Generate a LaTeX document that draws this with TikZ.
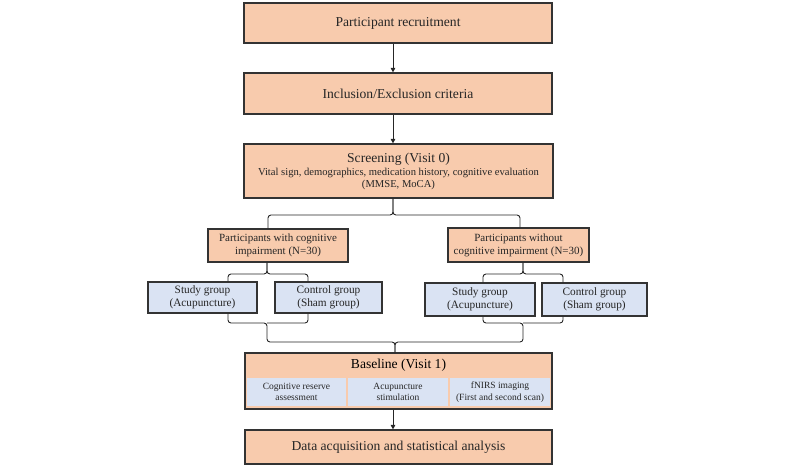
\documentclass[tikz,border=0pt]{standalone}
\usepackage{fontspec}
\setmainfont{Liberation Serif}
\usetikzlibrary{arrows.meta}
\definecolor{peach}{HTML}{F8CBAD}
\definecolor{lblue}{HTML}{DAE3F3}
\definecolor{edgec}{HTML}{333333}
\begin{document}
\begin{tikzpicture}[x=1pt,y=-1pt,
  obox/.style={draw=edgec,line width=1.2pt,fill=peach,inner sep=0pt,align=center,text=black!85},
  bbox/.style={draw=edgec,line width=1.2pt,fill=lblue,inner sep=0pt,align=center,text=black!85},
  cell/.style={fill=lblue,inner sep=0pt,align=center,text=black!85,minimum height=28pt},
  conn/.style={draw=black!85,line width=0.9pt,rounded corners=3pt},
  arr/.style={draw=black!85,line width=0.9pt,-{Triangle[length=4.5pt,width=4.5pt]}},
  big/.style={font=\fontsize{13.6}{15}\selectfont},
  mid/.style={font=\fontsize{11.3}{13}\selectfont},
  sml/.style={font=\fontsize{11}{12.8}\selectfont},
  tiny/.style={font=\fontsize{9.5}{11.5}\selectfont}]
\useasboundingbox (0,0) rectangle (800,467);

\node[obox,big,minimum width=308pt,minimum height=40pt] (rec) at (398,23) {Participant recruitment};
\node[obox,big,minimum width=308pt,minimum height=41pt] (inc) at (398,93.5) {Inclusion/Exclusion criteria};
\node[obox,minimum width=309pt,minimum height=54pt] (scr) at (398.5,171)
  {{\fontsize{13.6}{14}\selectfont Screening (Visit 0)}\\[1pt]
   {\fontsize{10.6}{14}\selectfont Vital sign, demographics, medication history, cognitive evaluation}\\
   {\fontsize{10.6}{14}\selectfont (MMSE, MoCA)}};

\node[obox,sml,minimum width=140pt,minimum height=33pt] (pw) at (278,245.5) {Participants with cognitive\\impairment (N=30)};
\node[obox,sml,minimum width=141pt,minimum height=34pt] (po) at (518.5,245) {Participants without\\cognitive impairment (N=30)};

\node[bbox,mid,minimum width=109pt,minimum height=31pt] (s1) at (202.5,297.5) {Study group\\(Acupuncture)};
\node[bbox,mid,minimum width=107pt,minimum height=31pt] (c1) at (328.5,297.5) {Control group\\(Sham group)};
\node[bbox,mid,minimum width=110pt,minimum height=33pt] (s2) at (480,299.5) {Study group\\(Acupuncture)};
\node[bbox,mid,minimum width=105pt,minimum height=33pt] (c2) at (594.5,299.5) {Control group\\(Sham group)};

\node[obox,minimum width=307pt,minimum height=56pt] (bas) at (398.5,381) {};
\node[big] (bt) at (398.5,365) {Baseline (Visit 1)};
\node[cell,tiny,minimum width=99pt] (k1) at (296.5,392) {Cognitive reserve\\assessment};
\node[cell,tiny,minimum width=100pt] (k2) at (398,392) {Acupuncture\\stimulation};
\node[cell,tiny,minimum width=100pt] (k3) at (500,392) {fNIRS imaging\\(First and second scan)};

\node[obox,big,minimum width=307pt,minimum height=34pt] (dat) at (398.5,447) {Data acquisition and statistical analysis};

% coordinates
\coordinate (ax) at (393,0);
\coordinate (h1) at (0,215);
\coordinate (bl) at (268,0);
\coordinate (br) at (520,0);
\coordinate (h2) at (0,274);
\coordinate (l1) at (267,0);
\coordinate (la) at (228,0);
\coordinate (lb) at (308,0);
\coordinate (r1) at (523,0);
\coordinate (ra) at (483,0);
\coordinate (rb) at (563,0);
\coordinate (h3) at (0,323);
\coordinate (h4) at (0,342);
\coordinate (bx) at (395,0);

\draw[arr] (rec.south -| ax) -- (inc.north -| ax);
\draw[arr] (inc.south -| ax) -- (scr.north -| ax);
\draw[arr] (bas.south -| ax) -- (dat.north -| ax);

% screening split
\draw[conn] (scr.south -| ax) -- (ax |- h1) -- (bl |- h1) -- (pw.north -| bl);
\draw[conn] (scr.south -| ax) -- (ax |- h1) -- (br |- h1) -- (po.north -| br);
% participant splits
\draw[conn] (pw.south -| l1) -- (l1 |- h2) -- (la |- h2) -- (s1.north -| la);
\draw[conn] (pw.south -| l1) -- (l1 |- h2) -- (lb |- h2) -- (c1.north -| lb);
\draw[conn] (po.south -| r1) -- (r1 |- h2) -- (ra |- h2) -- (s2.north -| ra);
\draw[conn] (po.south -| r1) -- (r1 |- h2) -- (rb |- h2) -- (c2.north -| rb);
% merges
\draw[conn] (s1.south -| la) -- (la |- h3) -- (l1 |- h3) -- (l1 |- h4) -- (bx |- h4) -- (bas.north -| bx);
\draw[conn] (c1.south -| lb) -- (lb |- h3) -- (l1 |- h3);
\draw[conn] (s2.south -| ra) -- (ra |- h3) -- (r1 |- h3) -- (r1 |- h4) -- (bx |- h4) -- (bas.north -| bx);
\draw[conn] (c2.south -| rb) -- (rb |- h3) -- (r1 |- h3);
\end{tikzpicture}
\end{document}
